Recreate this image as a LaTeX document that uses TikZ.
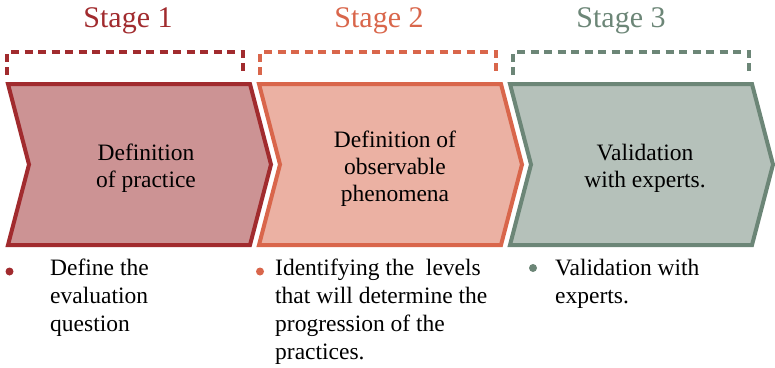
\documentclass[tikz,border=0pt]{standalone}
\usepackage{fontspec}
\setmainfont{Liberation Serif}
\usepackage{xcolor}
\definecolor{stageone}{RGB}{161,43,46}
\definecolor{stageonefill}{RGB}{204,147,148}
\definecolor{stagetwo}{RGB}{217,102,75}
\definecolor{stagetwofill}{RGB}{235,177,163}
\definecolor{stagethree}{RGB}{108,134,119}
\definecolor{stagethreefill}{RGB}{181,193,186}

\begin{document}
\begin{tikzpicture}[
                x=1pt, y=-1pt,
                line join=miter,
                stagetitle/.style={anchor=base, inner sep=0pt, font=\fontsize{30}{36}\selectfont},
                chevron/.style={line width=4pt},
                bracket/.style={line width=4.5pt, dash pattern=on 8pt off 5.5pt},
                chevtext/.style={align=center, inner sep=0pt, font=\fontsize{23.5}{27}\selectfont},
                bullettext/.style={align=left, anchor=north west, inner sep=0pt, font=\fontsize{23.5}{28}\selectfont},
                bulletdot/.style={shape=circle, inner sep=0pt, minimum size=8pt}
                ]
                \useasboundingbox (0,0) rectangle (775,367);

                %% Stages: title, dashed bracket, chevron
                \foreach \o/\b/\c/\f/\tx/\n in {0/0/stageone/stageonefill/128/1, 251/253/stagetwo/stagetwofill/379/2, 502/506/stagethree/stagethreefill/621/3} {
                    \node[stagetitle, text=\c] (title\n) at (\tx, 27) {Stage \n};
                    \draw[bracket, \c] (\b+7, 75) -- (\b+7, 52) -- (\b+243, 52) -- (\b+243, 75);
                    \draw[chevron, draw=\c, fill=\f] (\o+8, 84) -- (\o+250, 84) -- (\o+271, 164.5)
                        -- (\o+250, 245) -- (\o+8, 245) -- (\o+29, 164.5) -- cycle;
                }

                %% Chevron texts
                \node[chevtext] (step1) at (146, 168.5) {Definition\\of practice};
                \node[chevtext] (step2) at (395, 168.5) {Definition of\\observable\\phenomena};
                \node[chevtext] (step3) at (645, 168.5) {Validation\\with experts.};

                %% Bullets
                \node[bulletdot, fill=stageone] (dot1) at (9.5, 271.5) {};
                \node[bullettext] (item1) at (50, 259) {Define the\\evaluation\\question};
                \node[bulletdot, fill=stagetwo] (dot2) at (260, 271.5) {};
                \node[bullettext] (item2) at (275, 259) {Identifying the~ levels\\that will determine the\\progression of the\\practices.};
                \node[bulletdot, fill=stagethree] (dot3) at (533, 268) {};
                \node[bullettext] (item3) at (555, 259) {Validation with\\experts.};
\end{tikzpicture}
\end{document}
